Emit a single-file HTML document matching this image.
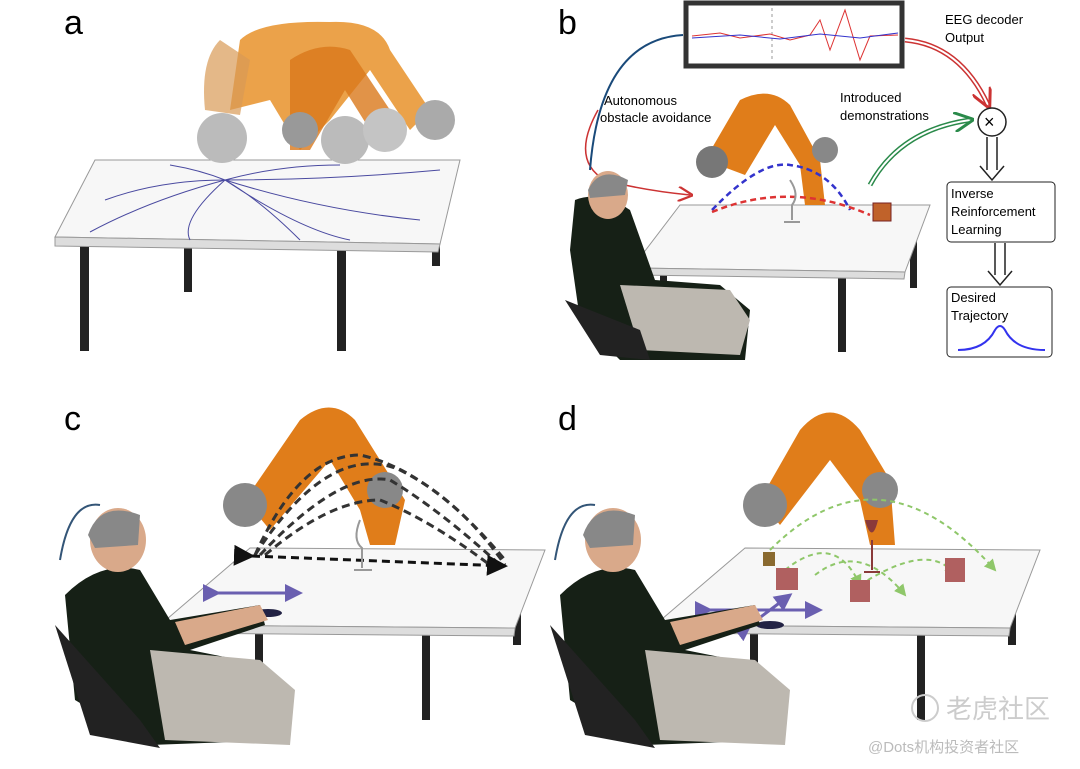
<!DOCTYPE html>
<html><head><meta charset="utf-8"><style>
html,body{margin:0;padding:0;background:#fff;}
svg{display:block;}
text{font-family:"Liberation Sans","Noto Sans CJK SC",sans-serif;}
</style></head><body>
<svg width="1080" height="769" viewBox="0 0 1080 769" xmlns="http://www.w3.org/2000/svg">
<defs>
<marker id="arr" markerWidth="10" markerHeight="10" refX="8" refY="5" orient="auto"><path d="M0,0 L10,5 L0,10" fill="none" stroke="#c33" stroke-width="1.5"/></marker>
<marker id="arg" markerWidth="10" markerHeight="10" refX="8" refY="5" orient="auto"><path d="M0,0 L10,5 L0,10" fill="none" stroke="#2a8a4a" stroke-width="1.5"/></marker>
<marker id="arp" markerWidth="6" markerHeight="6" refX="5" refY="3" orient="auto"><path d="M0,0 L6,3 L0,6 z" fill="#6a5fb0"/></marker>
<marker id="arb" markerWidth="7" markerHeight="7" refX="6" refY="3.5" orient="auto"><path d="M0,0 L7,3.5 L0,7 z" fill="#111"/></marker>
<marker id="arlg" markerWidth="6" markerHeight="6" refX="5" refY="3" orient="auto"><path d="M0,0 L6,3 L0,6 z" fill="#8fc76a"/></marker>
</defs>

<text x="64" y="34" font-size="34">a</text>
<text x="558" y="34" font-size="34">b</text>
<text x="64" y="430" font-size="34">c</text>
<text x="558" y="430" font-size="34">d</text>

<!-- PANEL A -->
<g>
<rect x="80" y="246" width="9" height="105" fill="#222"/>
<rect x="184" y="244" width="8" height="48" fill="#222"/>
<rect x="337" y="246" width="9" height="105" fill="#222"/>
<rect x="432" y="170" width="8" height="96" fill="#222"/>
<polygon points="55,237 95,160 460,160 440,244" fill="#f7f7f7" stroke="#999"/>
<polygon points="55,237 440,244 438,252 55,246" fill="#ddd" stroke="#999"/>
<g fill="none" stroke="#4a4aa0" stroke-width="1">
<path d="M225,180 Q160,180 105,200"/><path d="M225,180 Q150,200 90,232"/><path d="M225,180 Q180,220 190,240"/>
<path d="M225,180 Q300,230 350,240"/><path d="M225,180 Q320,210 420,220"/><path d="M225,180 Q330,180 440,170"/>
<path d="M225,180 Q280,165 340,165"/><path d="M225,180 Q200,170 170,165"/><path d="M225,180 Q260,200 300,240"/>
</g>
<path d="M240,40 Q260,20 330,22 Q380,20 390,50 L430,110 L410,130 L370,70 L330,120 L300,150 L270,100 L230,110 Z" fill="#e8922a" opacity="0.85"/>
<path d="M290,60 Q320,40 350,50 L390,110 L370,130 L345,90 L310,150 L290,150 Z" fill="#d9781a" opacity="0.8"/>
<path d="M220,40 Q200,60 205,110 L240,115 L250,60 Z" fill="#d89a55" opacity="0.7"/>
<circle cx="222" cy="138" r="25" fill="#bbb"/><circle cx="345" cy="140" r="24" fill="#bbb"/>
<circle cx="385" cy="130" r="22" fill="#c4c4c4"/><circle cx="435" cy="120" r="20" fill="#aaa"/>
<circle cx="300" cy="130" r="18" fill="#999"/>
</g>

<!-- PANEL B -->
<g>
<rect x="686" y="3" width="216" height="63" fill="#fff" stroke="#333" stroke-width="5"/>
<line x1="772" y1="8" x2="772" y2="62" stroke="#999" stroke-dasharray="3,3"/>
<path d="M692,36 L720,33 L740,38 L770,34 L790,40 L810,35 L820,20 L830,50 L845,10 L860,60 L870,36 L898,35" fill="none" stroke="#d33" stroke-width="1"/>
<path d="M692,38 L740,35 L780,39 L820,34 L860,38 L898,33" fill="none" stroke="#33c" stroke-width="1"/>
<text x="945" y="24" font-size="13">EEG decoder</text>
<text x="945" y="42" font-size="13">Output</text>
<path d="M905,40 Q960,45 988,105" fill="none" stroke="#c33" stroke-width="5"/>
<path d="M905,40 Q960,45 988,105" fill="none" stroke="#fff" stroke-width="2" marker-end="url(#arr)"/>
<circle cx="992" cy="122" r="14" fill="#fff" stroke="#222" stroke-width="1.5"/>
<text x="984" y="128" font-size="18">×</text>
<path d="M987,137 V170 M997,137 V170 M980,166 L992,180 L1004,166" fill="none" stroke="#222" stroke-width="1.5"/>
<rect x="947" y="182" width="108" height="60" rx="4" fill="#fff" stroke="#222"/>
<text x="951" y="198" font-size="13">Inverse</text><text x="951" y="216" font-size="13">Reinforcement</text><text x="951" y="234" font-size="13">Learning</text>
<path d="M995,243 V275 M1005,243 V275 M988,271 L1000,285 L1012,271" fill="none" stroke="#222" stroke-width="1.5"/>
<rect x="947" y="287" width="105" height="70" rx="4" fill="#fff" stroke="#222"/>
<text x="951" y="302" font-size="13">Desired</text><text x="951" y="320" font-size="13">Trajectory</text>
<path d="M958,350 Q985,350 995,330 Q1000,322 1005,330 Q1015,350 1045,350" fill="none" stroke="#33e" stroke-width="2"/>
<text x="604" y="105" font-size="13">Autonomous</text><text x="600" y="122" font-size="13">obstacle avoidance</text>
<text x="840" y="102" font-size="13">Introduced</text><text x="840" y="120" font-size="13">demonstrations</text>
<path d="M598,110 Q570,160 605,180 Q640,190 690,195" fill="none" stroke="#c33" stroke-width="1.5" marker-end="url(#arr)"/>
<path d="M870,185 Q900,130 970,120" fill="none" stroke="#2a8a4a" stroke-width="5"/>
<path d="M870,185 Q900,130 970,120" fill="none" stroke="#fff" stroke-width="2" marker-end="url(#arg)"/>
<path d="M683,35 Q600,40 590,170" fill="none" stroke="#1a4a7a" stroke-width="2"/>
<rect x="660" y="275" width="7" height="80" fill="#222"/>
<rect x="838" y="274" width="8" height="78" fill="#222"/>
<rect x="910" y="210" width="7" height="78" fill="#222"/>
<polygon points="632,268 680,205 930,205 905,272" fill="#f7f7f7" stroke="#999"/>
<polygon points="632,268 905,272 904,279 632,275" fill="#ddd" stroke="#999"/>
<path d="M705,160 L740,100 Q770,85 790,105 L820,160 L825,205 L805,205 L800,165 L775,125 L745,175 Z" fill="#e07d1a"/>
<circle cx="712" cy="162" r="16" fill="#777"/><circle cx="825" cy="150" r="13" fill="#888"/>
<path d="M712,210 Q760,160 790,165 Q830,170 850,210" fill="none" stroke="#33c" stroke-width="2.5" stroke-dasharray="6,4"/>
<path d="M712,212 Q790,180 870,215" fill="none" stroke="#d33" stroke-width="2.5" stroke-dasharray="6,4"/>
<rect x="873" y="203" width="18" height="18" fill="#c0622a" stroke="#722"/>
<path d="M790,180 Q800,195 792,205 V220 M784,222 H800" fill="none" stroke="#999" stroke-width="2"/>
<path d="M575,200 Q600,190 630,210 L655,280 L720,285 L750,310 L745,360 L620,360 L580,320 L570,250 Z" fill="#162016"/>
<path d="M620,285 L730,290 L750,320 L740,355 L640,350 Z" fill="#bdb8b0"/>
<ellipse cx="608" cy="195" rx="20" ry="24" fill="#d9a98a"/>
<path d="M588,190 Q600,165 628,180 L625,195 L590,198 Z" fill="#888"/>
<path d="M565,300 L600,355 L650,360 L640,330 Z" fill="#222"/>
</g>

<!-- PANEL C -->
<g>
<rect x="255" y="628" width="8" height="90" fill="#222"/>
<rect x="422" y="628" width="8" height="92" fill="#222"/>
<rect x="513" y="555" width="8" height="90" fill="#222"/>
<polygon points="160,625 250,548 545,550 515,628" fill="#f7f7f7" stroke="#999"/>
<polygon points="160,625 515,628 514,636 160,633" fill="#ddd" stroke="#999"/>
<path d="M245,500 L300,420 Q330,395 355,420 L405,500 L395,545 L370,545 L360,510 L330,460 L270,530 Z" fill="#e07d1a"/>
<circle cx="245" cy="505" r="22" fill="#888"/><circle cx="385" cy="490" r="18" fill="#888"/>
<g fill="none" stroke="#333" stroke-width="3" stroke-dasharray="8,5">
<path d="M255,555 Q330,440 400,470 Q460,500 505,565"/><path d="M260,555 Q340,470 390,480 Q440,510 500,565"/>
<path d="M265,555 Q330,500 380,500 Q430,520 490,565"/><path d="M255,555 Q300,455 360,455 Q430,470 505,560"/>
</g>
<path d="M252,556 L505,566" stroke="#111" stroke-width="3" stroke-dasharray="8,5" marker-start="url(#arb)" marker-end="url(#arb)"/>
<path d="M360,520 Q352,540 362,548 V568 M354,570 H372" fill="none" stroke="#999" stroke-width="2"/>
<path d="M218,593 H300" stroke="#6a5fb0" stroke-width="3" marker-start="url(#arp)" marker-end="url(#arp)"/>
<ellipse cx="268" cy="613" rx="14" ry="4" fill="#224"/>
<path d="M65,595 Q100,560 140,570 L170,620 L260,605 L265,625 L190,650 L240,660 L280,680 L285,740 L150,745 L75,700 Z" fill="#162016"/>
<path d="M150,650 L260,660 L295,690 L290,745 L165,740 Z" fill="#bdb8b0"/>
<path d="M175,622 L260,605 L268,620 L185,645 Z" fill="#d9a98a"/>
<ellipse cx="118" cy="540" rx="28" ry="32" fill="#d9a98a"/>
<path d="M88,535 Q100,500 140,515 L138,545 L95,548 Z" fill="#888"/>
<path d="M100,505 Q70,500 60,560" fill="none" stroke="#357" stroke-width="2"/>
<path d="M55,625 L90,735 L160,748 L140,720 Z" fill="#222"/>
</g>

<!-- PANEL D -->
<g>
<rect x="750" y="628" width="8" height="90" fill="#222"/>
<rect x="917" y="628" width="8" height="92" fill="#222"/>
<rect x="1008" y="555" width="8" height="90" fill="#222"/>
<polygon points="655,625 745,548 1040,550 1010,628" fill="#f7f7f7" stroke="#999"/>
<polygon points="655,625 1010,628 1009,636 655,633" fill="#ddd" stroke="#999"/>
<path d="M760,500 L800,430 Q830,395 860,430 L890,480 L895,545 L870,545 L860,500 L830,460 L780,525 Z" fill="#e07d1a"/>
<circle cx="765" cy="505" r="22" fill="#888"/><circle cx="880" cy="490" r="18" fill="#888"/>
<g fill="none" stroke="#8fc76a" stroke-width="2" stroke-dasharray="5,4">
<path d="M770,550 Q880,440 995,570" marker-end="url(#arlg)"/><path d="M785,570 Q835,530 860,585" marker-end="url(#arlg)"/>
<path d="M815,575 Q860,540 905,595" marker-end="url(#arlg)"/><path d="M860,585 Q930,540 955,575" marker-end="url(#arlg)"/>
</g>
<rect x="776" y="568" width="22" height="22" fill="#b06060"/>
<rect x="850" y="580" width="20" height="22" fill="#b06060"/>
<rect x="945" y="558" width="20" height="24" fill="#b06060"/>
<rect x="763" y="552" width="12" height="14" fill="#8a6a30"/>
<path d="M865,520 Q872,545 878,520 Z" fill="#8a3a3a"/><path d="M872,540 V570 M864,572 H880" stroke="#8a3a3a" stroke-width="2"/>
<path d="M710,610 H820" stroke="#6a5fb0" stroke-width="3" marker-start="url(#arp)" marker-end="url(#arp)"/>
<path d="M750,625 L790,595" stroke="#6a5fb0" stroke-width="3" marker-start="url(#arp)" marker-end="url(#arp)"/>
<ellipse cx="770" cy="625" rx="14" ry="4" fill="#224"/>
<path d="M560,595 Q595,560 635,570 L665,620 L755,605 L760,625 L685,650 L735,660 L775,680 L780,740 L645,745 L570,700 Z" fill="#162016"/>
<path d="M645,650 L755,660 L790,690 L785,745 L660,740 Z" fill="#bdb8b0"/>
<path d="M670,622 L755,605 L763,620 L680,645 Z" fill="#d9a98a"/>
<ellipse cx="613" cy="540" rx="28" ry="32" fill="#d9a98a"/>
<path d="M583,535 Q595,500 635,515 L633,545 L590,548 Z" fill="#888"/>
<path d="M595,505 Q565,500 555,560" fill="none" stroke="#357" stroke-width="2"/>
<path d="M550,625 L585,735 L655,748 L635,720 Z" fill="#222"/>
</g>

<circle cx="925" cy="708" r="13" fill="none" stroke="#ccc" stroke-width="2"/>
<text x="946" y="718" font-size="26" fill="#ccc">老虎社区</text>
<text x="868" y="752" font-size="15" fill="#bbb">@Dots机构投资者社区</text>
</svg>
</body></html>
